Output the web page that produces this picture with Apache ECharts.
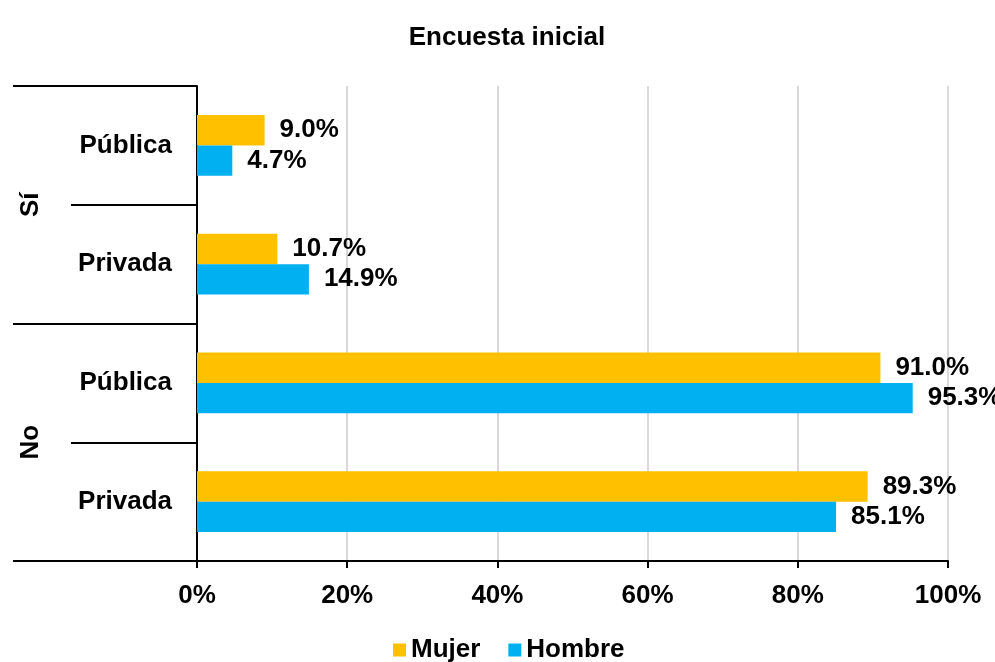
<!DOCTYPE html>
<html>
<head>
<meta charset="utf-8">
<title>Encuesta inicial</title>
<script src="https://cdn.jsdelivr.net/npm/echarts@6/dist/echarts.min.js"></script>
<style>
  html, body { margin: 0; padding: 0; background: #ffffff; }
  #chart { width: 995px; height: 662px; }
</style>
</head>
<body>
<div id="chart"></div>
<script>
// Survey answers grouped by response (Sí / No) and school type
const titleText = 'Encuesta inicial';
const groups = ['Sí', 'No'];
const subcategories = ['Pública', 'Privada', 'Pública', 'Privada'];
const seriesNames = ['Mujer', 'Hombre'];
const mujer = [9.0, 10.7, 91.0, 89.3];
const hombre = [4.7, 14.9, 95.3, 85.1];
const xTicks = [0, 20, 40, 60, 80, 100];

const FONT = '"Liberation Sans", Arial, sans-serif';
const BOLD = { fontFamily: FONT, fontWeight: 'bold', fontSize: 26, color: '#000' };
const colors = ['#FFC000', '#00B0F0'];

const chart = echarts.init(document.getElementById('chart'), null, { renderer: 'canvas' });

const labelCfg = {
  show: true,
  position: 'right',
  distance: 15,
  ...BOLD,
  formatter: p => p.value.toFixed(1) + '%'
};

chart.setOption({
  backgroundColor: '#ffffff',
  animation: false,
  title: {
    text: titleText,
    left: 507,
    textAlign: 'center',
    top: 25,
    padding: 0,
    textStyle: { ...BOLD, fontSize: 26 }
  },
  legend: {
    data: seriesNames,
    left: 388,
    top: 632,
    itemWidth: 13,
    itemHeight: 13,
    itemGap: 28,
    icon: 'rect',
    textStyle: BOLD
  },
  grid: { left: 197, right: 47, top: 86, bottom: 101 },
  xAxis: {
    type: 'value',
    min: xTicks[0],
    max: xTicks[xTicks.length - 1],
    interval: xTicks[1] - xTicks[0],
    axisLine: { show: true, lineStyle: { color: '#000', width: 2 } },
    axisTick: { show: true, length: 7, lineStyle: { color: '#000', width: 2 } },
    splitLine: { show: true, lineStyle: { color: '#d9d9d9', width: 2 } },
    axisLabel: { ...BOLD, margin: 22, formatter: '{value}%' }
  },
  yAxis: [
    {
      type: 'category',
      data: subcategories,
      inverse: true,
      position: 'left',
      axisLine: { show: true, lineStyle: { color: '#000', width: 2 } },
      axisTick: { show: true, length: 126, interval: 0, lineStyle: { color: '#000', width: 2 } },
      axisLabel: { ...BOLD, margin: 25, interval: 0 },
      splitLine: { show: false }
    },
    {
      type: 'category',
      data: groups,
      inverse: true,
      position: 'left',
      offset: 0,
      axisLine: { show: false },
      axisTick: { show: true, length: 184, interval: 0, lineStyle: { color: '#000', width: 2 } },
      axisLabel: { ...BOLD, rotate: 90, margin: 153, interval: 0 },
      splitLine: { show: false }
    }
  ],
  series: [
    {
      name: seriesNames[0],
      type: 'bar',
      yAxisIndex: 0,
      data: mujer,
      itemStyle: { color: colors[0] },
      barGap: '0%',
      barCategoryGap: '49%',
      label: labelCfg
    },
    {
      name: seriesNames[1],
      type: 'bar',
      yAxisIndex: 0,
      data: hombre,
      itemStyle: { color: colors[1] },
      barGap: '0%',
      barCategoryGap: '49%',
      label: labelCfg
    }
  ]
});
</script>
</body>
</html>
